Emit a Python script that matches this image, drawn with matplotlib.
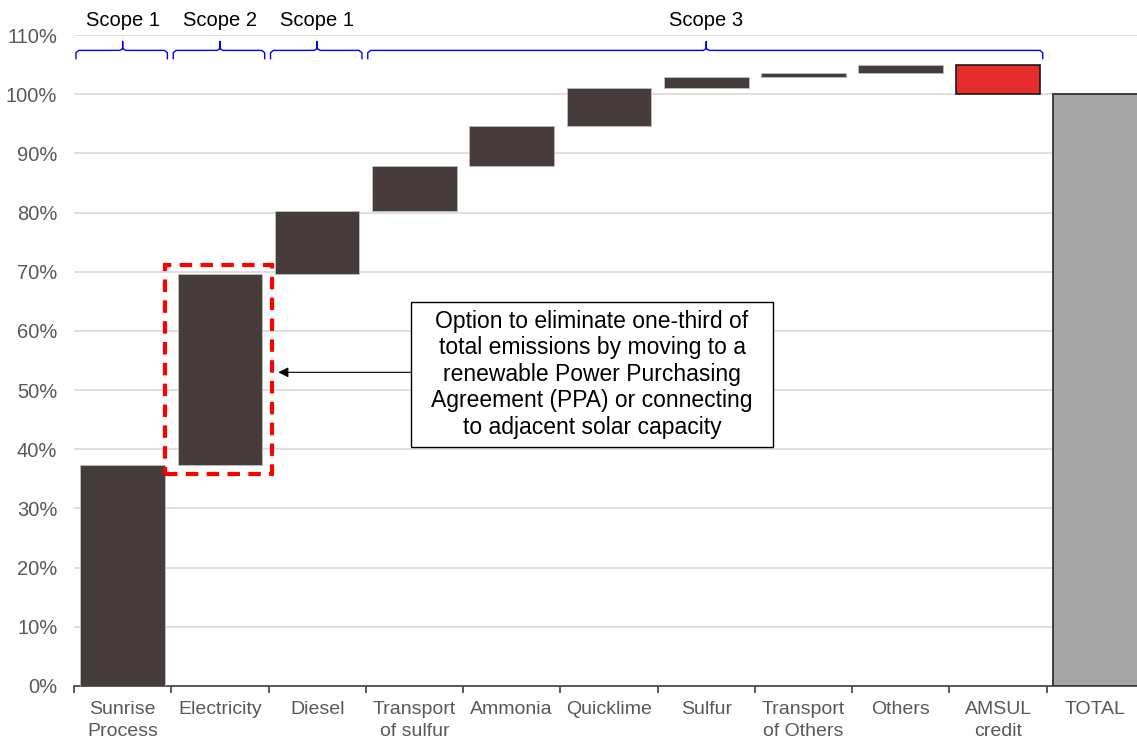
import numpy as np
import matplotlib
matplotlib.use("Agg")
import matplotlib.pyplot as plt
from matplotlib.patches import Rectangle

plt.rcParams['font.family'] = ['Liberation Sans', 'DejaVu Sans']

# emissions waterfall (share of total, %)
categories = ['Sunrise\nProcess', 'Electricity', 'Diesel', 'Transport\nof sulfur', 'Ammonia',
              'Quicklime', 'Sulfur', 'Transport\nof Others', 'Others', 'AMSUL\ncredit', 'TOTAL']
steps = [37.4, 32.2, 10.7, 7.5, 6.9, 6.4, 1.8, 0.7, 1.4, -5.0]
total = 100.0

# scope groups: (label, first index, last index)
scopes = [('Scope 1', 0, 0), ('Scope 2', 1, 1), ('Scope 1', 2, 2), ('Scope 3', 3, 9)]

note = ("Option to eliminate one-third of\ntotal emissions by moving to a\n"
        "renewable Power Purchasing\nAgreement (PPA) or connecting\nto adjacent solar capacity")

DARK = '#453c3b'
RED = '#e52d2d'
GREY = '#a6a6a6'
TXT = '#595959'

fig = plt.figure(figsize=(11.37, 7.40), dpi=100)
ax = fig.add_axes([0.0651, 0.073, 0.941, 0.8797])

x = np.arange(len(categories))
w = 0.87
bottoms = np.concatenate([[0], np.cumsum(steps)[:-1]])
for i, (b, s) in enumerate(zip(bottoms, steps)):
    if s >= 0:
        ax.bar(i, s, bottom=b, width=w, color=DARK, edgecolor='#bfbfbf', linewidth=0.6, zorder=3)
    else:
        ax.bar(i, -s, bottom=b + s, width=w, color=RED, edgecolor='#1a1a1a', linewidth=1.2, zorder=3)
ax.bar(len(steps), total, width=w, color=GREY, edgecolor='#262626', linewidth=1.2, zorder=3)

ax.set_xlim(-0.5, len(categories) - 0.5)
ax.set_ylim(0, 110)
ax.set_yticks(np.arange(0, 111, 10))
ax.set_yticklabels(['%d%%' % v for v in range(0, 111, 10)])
ax.grid(axis='y', color='#d9d9d9', linewidth=1.2, zorder=0)
ax.set_axisbelow(True)

ax.set_xticks(x)
ax.set_xticklabels(categories, color=TXT, fontsize=14, linespacing=1.35)
ax.set_xticks(np.arange(-0.5, len(categories), 1), minor=True)
ax.tick_params(axis='x', which='major', length=0, pad=11)
ax.tick_params(axis='x', which='minor', length=5, width=1.2, color='#404040', direction='out')
ax.tick_params(axis='y', length=0, labelcolor=TXT, labelsize=14.5, pad=12)

for side in ['left', 'right', 'top']:
    ax.spines[side].set_visible(False)
ax.spines['bottom'].set_color('#404040')
ax.spines['bottom'].set_linewidth(1.2)

# scope braces above the bars
for label, i0, i1 in scopes:
    xa = i0 - 0.48
    xb = i1 + 0.46
    xm = (i0 + i1) / 2
    if label == 'Scope 3':
        xm = 6.0
    bx = [xa, xa, xa + 0.03, xm - 0.03, xm, xm, xm, xm + 0.03, xb - 0.03, xb, xb]
    by = [106.0, 107.0, 107.4, 107.4, 107.7, 108.9, 107.7, 107.4, 107.4, 107.0, 106.0]
    ax.plot(bx, by, color='#0000ff', linewidth=1.0, clip_on=False, zorder=4)
    ax.text(xm, 112.4, label, ha='center', va='center', fontsize=14.5, color='black', clip_on=False)

# highlight around the electricity bar
ax.add_patch(Rectangle((0.44, 35.8), 1.095, 35.3, fill=False, edgecolor='#ff0000',
                       linewidth=3, linestyle=(0, (3, 2)), zorder=5, clip_on=False))

# callout box with arrow pointing at the highlight
bx0, bx1, by0, by1 = 2.965, 6.686, 40.4, 64.9
ax.add_patch(Rectangle((bx0, by0), bx1 - bx0, by1 - by0, facecolor='white',
                       edgecolor='black', linewidth=1, zorder=6))
ax.text((bx0 + bx1) / 2, (by0 + by1) / 2, note, ha='center', va='center',
        fontsize=16.5, color='black', linespacing=1.2, zorder=7)
ax.annotate('', xy=(1.60, 53.0), xytext=(bx0, 53.0),
            arrowprops=dict(arrowstyle='-|>', color='black', linewidth=0.8, mutation_scale=15,
                            shrinkA=0, shrinkB=0),
            zorder=6)

fig.savefig('out.png', dpi=100)
